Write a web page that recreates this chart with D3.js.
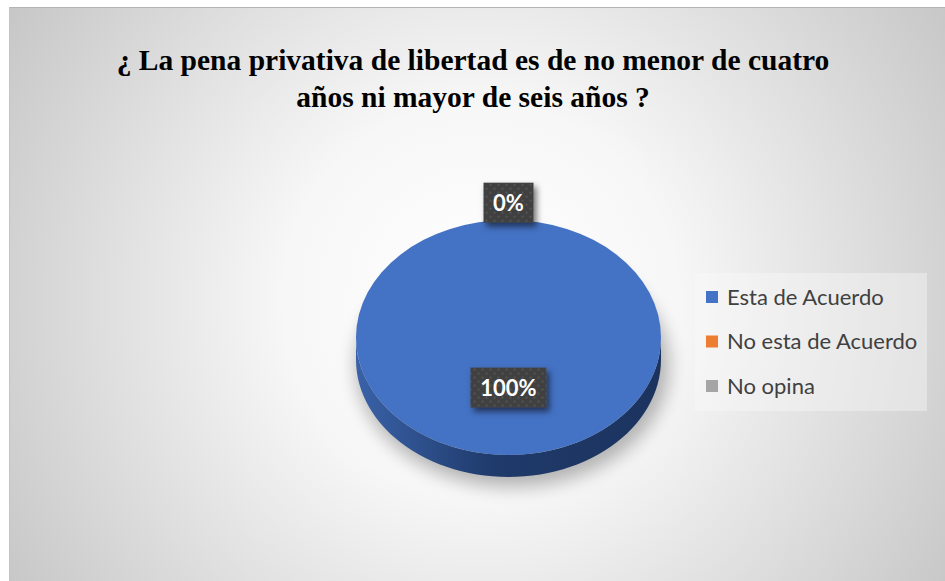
<!DOCTYPE html>
<html>
<head>
<meta charset="utf-8">
<script src="https://cdn.jsdelivr.net/npm/d3@7"></script>
<style>
  body { margin: 0; background: #ffffff; }
  svg { display: block; }
</style>
</head>
<body>
<div id="chart"></div>
<script>
// data
var categories = ["Esta de Acuerdo", "No esta de Acuerdo", "No opina"];
var values = [100, 0, 0];
var colors = ["#4472c4", "#ed7d31", "#a5a5a5"];
var titleLines = ["¿ La pena privativa de libertad es de no menor de cuatro", "años ni mayor de seis años ?"];

var width = 945, height = 581;
var pie3d = { cx: 508.5, cy: 337.5, rx: 152.5, ry: 117.5, depth: 22 };

var svg = d3.select("#chart").append("svg")
    .attr("width", width)
    .attr("height", height);

var defs = svg.append("defs");

// chart background
var bg = defs.append("radialGradient")
    .attr("id", "bg")
    .attr("gradientUnits", "userSpaceOnUse")
    .attr("cx", 480).attr("cy", 300).attr("r", 560);
bg.append("stop").attr("offset", "0").attr("stop-color", "#ffffff");
bg.append("stop").attr("offset", "0.35").attr("stop-color", "#f7f7f7");
bg.append("stop").attr("offset", "1").attr("stop-color", "#c6c6c6");

var side = defs.append("linearGradient")
    .attr("id", "side")
    .attr("x1", "0").attr("x2", "1").attr("y1", "0").attr("y2", "0");
side.append("stop").attr("offset", "0").attr("stop-color", "#3a62a8");
side.append("stop").attr("offset", "0.45").attr("stop-color", "#1f3a6b");
side.append("stop").attr("offset", "1").attr("stop-color", "#1c335e");

var pat = defs.append("pattern")
    .attr("id", "dots")
    .attr("patternUnits", "userSpaceOnUse")
    .attr("width", 8).attr("height", 8);
pat.append("rect").attr("width", 8).attr("height", 8).attr("fill", "#404040");
pat.append("circle").attr("cx", 2).attr("cy", 2).attr("r", 1).attr("fill", "#5a5a5a");
pat.append("circle").attr("cx", 6).attr("cy", 6).attr("r", 1).attr("fill", "#5a5a5a");

var shadow = defs.append("filter").attr("id", "shadow")
    .attr("x", "-30%").attr("y", "-30%").attr("width", "160%").attr("height", "160%");
shadow.append("feDropShadow")
    .attr("dx", 3).attr("dy", 4).attr("stdDeviation", 3)
    .attr("flood-color", "#000").attr("flood-opacity", 0.55);

var blur = defs.append("filter").attr("id", "blur")
    .attr("x", "-30%").attr("y", "-30%").attr("width", "160%").attr("height", "160%");
blur.append("feGaussianBlur").attr("stdDeviation", 9);

svg.append("rect")
    .attr("x", 9).attr("y", 7)
    .attr("width", width - 9).attr("height", height - 7)
    .attr("fill", "url(#bg)");
svg.append("line")
    .attr("x1", 9).attr("x2", width).attr("y1", 7.5).attr("y2", 7.5)
    .attr("stroke", "#b4b4b4");
svg.append("line")
    .attr("x1", 9.5).attr("x2", 9.5).attr("y1", 7).attr("y2", height)
    .attr("stroke", "#c4c4c4");

// title
svg.append("text")
    .attr("x", 473).attr("y", 70)
    .attr("text-anchor", "middle")
    .style("font-family", "'Liberation Serif', 'Times New Roman', serif")
    .style("font-weight", "bold")
    .style("font-size", "29.5px")
    .attr("fill", "#000")
    .selectAll("tspan")
    .data(titleLines)
    .enter().append("tspan")
    .attr("x", 473)
    .attr("dy", function(d, i) { return i ? 37 : 0; })
    .text(function(d) { return d; });

// pie
var pie = d3.pie().sort(null).value(function(d) { return d; });
var arcs = pie(values);
var scaleY = pie3d.ry / pie3d.rx;
var arc = d3.arc().innerRadius(0).outerRadius(pie3d.rx);

var g = svg.append("g");

// soft shadow under the pie
g.append("ellipse")
    .attr("cx", pie3d.cx + 4).attr("cy", pie3d.cy + pie3d.depth + 6)
    .attr("rx", pie3d.rx + 4).attr("ry", pie3d.ry + 4)
    .attr("fill", "#000").attr("opacity", 0.28)
    .attr("filter", "url(#blur)");

// side walls, only the front half (angles PI/2..3PI/2) is visible
function sidePath(d) {
    var a0 = Math.max(d.startAngle, Math.PI / 2);
    var a1 = Math.min(d.endAngle, 3 * Math.PI / 2);
    if (a1 <= a0) return null;
    var pts = [], n = 60, i, a;
    for (i = 0; i <= n; i++) {
        a = a0 + (a1 - a0) * i / n;
        pts.push([pie3d.cx + pie3d.rx * Math.sin(a), pie3d.cy - pie3d.ry * Math.cos(a)]);
    }
    for (i = n; i >= 0; i--) {
        a = a0 + (a1 - a0) * i / n;
        pts.push([pie3d.cx + pie3d.rx * Math.sin(a), pie3d.cy - pie3d.ry * Math.cos(a) + pie3d.depth]);
    }
    return "M" + pts.join("L") + "Z";
}

g.selectAll(".side")
    .data(arcs)
    .enter().append("path")
    .attr("class", "side")
    .attr("d", sidePath)
    .attr("fill", function(d, i) { return i === 0 ? "url(#side)" : d3.color(colors[i]).darker(1.2); });

g.selectAll(".slice")
    .data(arcs)
    .enter().append("path")
    .attr("class", "slice")
    .attr("transform", "translate(" + pie3d.cx + "," + pie3d.cy + ") scale(1," + scaleY + ")")
    .attr("d", arc)
    .attr("fill", function(d, i) { return colors[i]; });

// data labels
var total = d3.sum(values);
var labelArc = function(d) {
    var r = d.value === 0 ? 175 : 65;
    return d3.arc().innerRadius(r).outerRadius(r).centroid(d);
};
var labels = svg.selectAll(".label")
    .data(arcs.filter(function(d, i) { return i < 2; }))
    .enter().append("g")
    .attr("class", "label")
    .attr("transform", function(d) {
        var c = labelArc(d);
        return "translate(" + (pie3d.cx + c[0]) + "," + (pie3d.cy + c[1] * scaleY) + ")";
    });

labels.each(function(d) {
    var txt = Math.round(d.value / total * 100) + "%";
    var w = txt.length * 13 + 24;
    d3.select(this).append("rect")
        .attr("x", -w / 2).attr("y", -20)
        .attr("width", w).attr("height", 40)
        .attr("fill", "url(#dots)")
        .attr("filter", "url(#shadow)");
    d3.select(this).append("text")
        .attr("text-anchor", "middle")
        .attr("y", 8)
        .style("font-family", "Lato, 'Open Sans', sans-serif")
        .style("font-weight", "bold")
        .style("font-size", "22px")
        .attr("fill", "#fff")
        .text(txt);
});

// legend
var legend = svg.append("g").attr("transform", "translate(695,273)");
legend.append("rect")
    .attr("width", 232).attr("height", 138)
    .attr("fill", "#fafafa").attr("opacity", 0.4);
var items = legend.selectAll(".item")
    .data(categories)
    .enter().append("g")
    .attr("class", "item")
    .attr("transform", function(d, i) { return "translate(0," + (24 + i * 44.5) + ")"; });
items.append("rect")
    .attr("x", 11).attr("y", -6)
    .attr("width", 12).attr("height", 12)
    .attr("fill", function(d, i) { return colors[i]; });
items.append("text")
    .attr("x", 32).attr("y", 7.5)
    .style("font-family", "Lato, 'Open Sans', sans-serif")
    .style("font-size", "22px")
    .attr("fill", "#404040")
    .text(function(d) { return d; });
</script>
</body>
</html>
